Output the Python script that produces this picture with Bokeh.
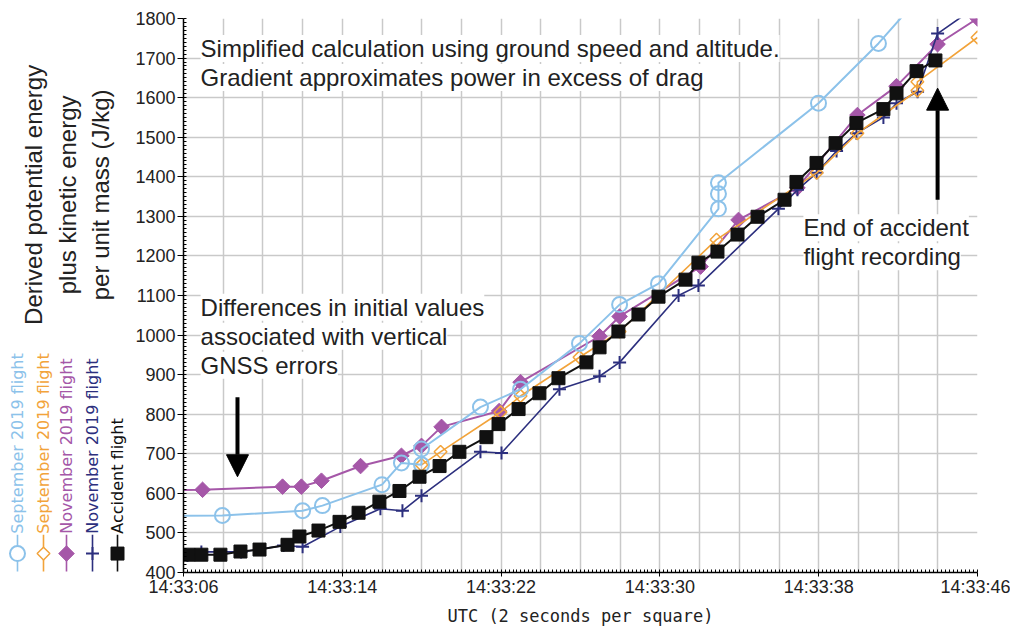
import math
from bokeh.plotting import figure
from bokeh.layouts import row
from bokeh.models import FixedTicker, Label, Arrow, NormalHead, Range1d
from bokeh.core.properties import value
from bokeh.embed import file_html
from bokeh.resources import INLINE

# ---------------- data (seconds after 14:33:00, J/kg) ----------------
x_tick_values = [6, 14, 22, 30, 38, 46]
x_tick_labels = ["14:33:06", "14:33:14", "14:33:22", "14:33:30", "14:33:38", "14:33:46"]
y_tick_values = list(range(400, 1801, 100))

sep1_t = [5.0, 7.96, 12.0, 13.0, 16.0, 16.98, 17.99, 17.99, 20.96, 22.98, 25.95,
          27.97, 29.93, 32.95, 32.95, 32.95, 37.99, 41.01, 43.0]
sep1_e = [543, 544, 556, 569, 622, 677, 672, 712, 818, 863, 979,
          1077, 1130, 1319, 1357, 1385, 1586, 1737, 1850]

sep2_t = [17.99, 18.95, 21.97, 22.98, 25.95, 27.97, 32.85, 37.9, 39.95, 42.97, 42.97, 46.0]
sep2_e = [672, 705, 805, 846, 944, 1009, 1241, 1410, 1510, 1618, 1640, 1752]

nov1_t = [5.0, 6.96, 10.99, 11.94, 12.95, 14.92, 16.98, 17.99, 19.0, 21.9, 22.98,
          26.96, 27.97, 32.05, 33.96, 36.93, 39.95, 41.92, 43.99, 46.0]
nov1_e = [608, 609, 617, 617, 632, 669, 695, 720, 768, 808, 881,
          997, 1047, 1173, 1291, 1372, 1556, 1629, 1735, 1800]

nov2_t = [6.2, 6.9, 8.9, 11.04, 12.0, 13.9, 15.92, 17.03, 17.99, 20.96, 22.02,
          24.94, 26.96, 27.97, 30.94, 31.94, 35.97, 36.93, 37.9, 38.9, 39.9,
          41.26, 41.92, 42.98, 43.99, 46.0]
nov2_e = [443, 452, 452, 468, 465, 516, 561, 556, 594, 705, 702,
          863, 896, 931, 1100, 1125, 1319, 1367, 1410, 1465, 1510,
          1550, 1586, 1615, 1762, 1832]

acc_t = [6.25, 6.9, 7.86, 8.87, 9.83, 11.24, 11.84, 12.8, 13.86, 14.82, 15.87,
         16.88, 17.89, 18.9, 19.9, 21.26, 21.87, 22.88, 23.93, 24.89, 26.3,
         26.96, 27.91, 28.92, 29.93, 31.29, 31.94, 32.9, 33.91, 34.92, 36.28,
         36.88, 37.89, 38.85, 39.9, 41.26, 41.92, 42.93, 43.88]
acc_e = [445, 445, 445, 453, 458, 470, 491, 506, 528, 551, 579,
         606, 642, 669, 705, 742, 775, 813, 853, 891, 931,
         969, 1009, 1052, 1097, 1140, 1183, 1211, 1254, 1299, 1342,
         1387, 1435, 1485, 1536, 1571, 1611, 1667, 1694]

legend_labels = ["September 2019 flight", "September 2019 flight",
                 "November 2019 flight", "November 2019 flight", "Accident flight"]

# ---------------- styles ----------------
C_SEP1 = "#8cc2ea"
C_SEP2 = "#f2a33a"
C_NOV1 = "#a557a8"
C_NOV2 = "#2c2f7e"
C_ACC = "#111111"
TXT = "#222222"
SANS = "Liberation Sans"

TOP, BOTTOM_EDGE, H = 18, 574, 628
LEFT_W = 130

# ---------------- main figure ----------------
p = figure(width=1010 - LEFT_W, height=H, x_range=Range1d(6, 46), y_range=Range1d(400, 1800),
           output_backend="svg", toolbar_location=None,
           min_border_left=183 - LEFT_W, min_border_right=1010 - 977,
           min_border_top=TOP, min_border_bottom=H - BOTTOM_EDGE)
p.outline_line_color = None
p.background_fill_color = "white"

p.xaxis.ticker = FixedTicker(ticks=x_tick_values,
                             minor_ticks=[6 + 0.2 * i for i in range(201)])
p.xaxis.major_label_overrides = {v: s for v, s in zip(x_tick_values, x_tick_labels)}
p.yaxis.ticker = FixedTicker(ticks=y_tick_values,
                             minor_ticks=list(range(400, 1801, 10)))
p.xgrid.ticker = FixedTicker(ticks=list(range(6, 47, 2)))
p.ygrid.ticker = FixedTicker(ticks=y_tick_values)
for g in (p.xgrid, p.ygrid):
    g.grid_line_color = "#c9c9c9"
    g.grid_line_width = 1.5

for ax in (p.xaxis, p.yaxis):
    ax.axis_line_color = "black"
    ax.axis_line_width = 1.5
    ax.major_tick_line_color = "black"
    ax.minor_tick_line_color = "black"
    ax.major_tick_in = 0
    ax.minor_tick_in = 3
    ax.minor_tick_out = 0
    ax.major_label_text_font = SANS
    ax.major_label_text_font_size = "18px"
    ax.major_label_text_color = TXT
p.xaxis.major_tick_out = 4
p.xaxis.major_label_standoff = 0
p.yaxis.major_tick_out = 6
p.yaxis.major_label_standoff = 2
p.xaxis.axis_label = "UTC (2 seconds per square)"
p.xaxis.axis_label_text_font = "DejaVu Sans Mono"
p.xaxis.axis_label_text_font_style = "normal"
p.xaxis.axis_label_text_font_size = "17px"
p.xaxis.axis_label_text_color = TXT
p.xaxis.axis_label_standoff = 6

# series
p.line(nov1_t, nov1_e, color=C_NOV1, line_width=2)
p.scatter(nov1_t, nov1_e, marker="square", angle=math.pi / 4, size=11,
          fill_color=C_NOV1, line_color=C_NOV1)

p.line(nov2_t, nov2_e, color=C_NOV2, line_width=1.6)
p.scatter(nov2_t, nov2_e, marker="cross", size=13, line_color=C_NOV2, line_width=2)

p.line(sep2_t, sep2_e, color=C_SEP2, line_width=1.6)
p.scatter(sep2_t, sep2_e, marker="square", angle=math.pi / 4, size=9,
          fill_color=None, line_color=C_SEP2, line_width=1.5)

p.line(sep1_t, sep1_e, color=C_SEP1, line_width=2)
p.scatter(sep1_t, sep1_e, marker="circle", size=15, fill_color=None,
          line_color=C_SEP1, line_width=2)

p.line(acc_t, acc_e, color=C_ACC, line_width=2)
p.scatter(acc_t, acc_e, marker="square", size=13, fill_color=C_ACC, line_color=C_ACC)

# annotations
def note(x, y, text):
    p.add_layout(Label(x=x, y=y, text=text, text_font=SANS, text_font_size="24px",
                       text_color=TXT, text_baseline="middle", text_align="left",
                       background_fill_color="white"))

note(6.86, 1724, "Simplified calculation using ground speed and altitude.")
note(6.86, 1651, "Gradient approximates power in excess of drag")
note(6.86, 1070, "Differences in initial values")
note(6.86, 997, "associated with vertical")
note(6.86, 924, "GNSS errors")
note(37.23, 1271, "End of accident")
note(37.23, 1198, "flight recording")

p.add_layout(Arrow(end=NormalHead(size=22, fill_color="black", line_color="black"),
                   x_start=8.72, y_start=843, x_end=8.72, y_end=642,
                   line_width=4, line_color="black"))
p.add_layout(Arrow(end=NormalHead(size=22, fill_color="black", line_color="black"),
                   x_start=43.99, y_start=1342, x_end=43.99, y_end=1624,
                   line_width=4, line_color="black"))

# ---------------- left panel: y label + rotated legend ----------------
# frame of this panel is aligned with the main frame (page y 18..574); y = -page_y
q = figure(width=LEFT_W, height=H, x_range=Range1d(0, LEFT_W),
           y_range=Range1d(-BOTTOM_EDGE, -TOP),
           output_backend="svg", toolbar_location=None, x_axis_type=None,
           y_axis_type=None, min_border_left=0, min_border_right=0,
           min_border_top=TOP, min_border_bottom=H - BOTTOM_EDGE)
q.outline_line_color = None

ylab_lines = ["Derived potential energy", "plus kinetic energy", "per unit mass (J/kg)"]
q.text(x=[33, 67, 100], y=[-195, -195, -195], text=ylab_lines, angle=math.pi / 2,
       text_align="center", text_baseline="middle", text_font=value(SANS),
       text_font_size="24px", text_color=TXT)

leg_x = [17, 43, 66, 92, 117]
leg_colors = [C_SEP1, C_SEP2, C_NOV1, C_NOV2, C_ACC]
for lx, col in zip(leg_x, leg_colors):
    q.line([lx, lx], [-573, -536], color=col, line_width=1.6)
q.scatter([leg_x[0]], [-555], marker="circle", size=15, fill_color="white",
          line_color=C_SEP1, line_width=2)
q.scatter([leg_x[1]], [-555], marker="square", angle=math.pi / 4, size=9,
          fill_color="white", line_color=C_SEP2, line_width=1.5)
q.scatter([leg_x[2]], [-555], marker="square", angle=math.pi / 4, size=11,
          fill_color=C_NOV1, line_color=C_NOV1)
q.scatter([leg_x[3]], [-555], marker="cross", size=13, line_color=C_NOV2, line_width=2)
q.scatter([leg_x[4]], [-555], marker="square", size=13, fill_color=C_ACC, line_color=C_ACC)
q.text(x=leg_x, y=[-535] * 5, text=legend_labels, angle=math.pi / 2,
       text_align="left", text_baseline="middle", text_font=value("DejaVu Sans"),
       text_font_size="16px", text_color=leg_colors)

layout = row(q, p)
open("out.html", "w").write(file_html(layout, INLINE))
